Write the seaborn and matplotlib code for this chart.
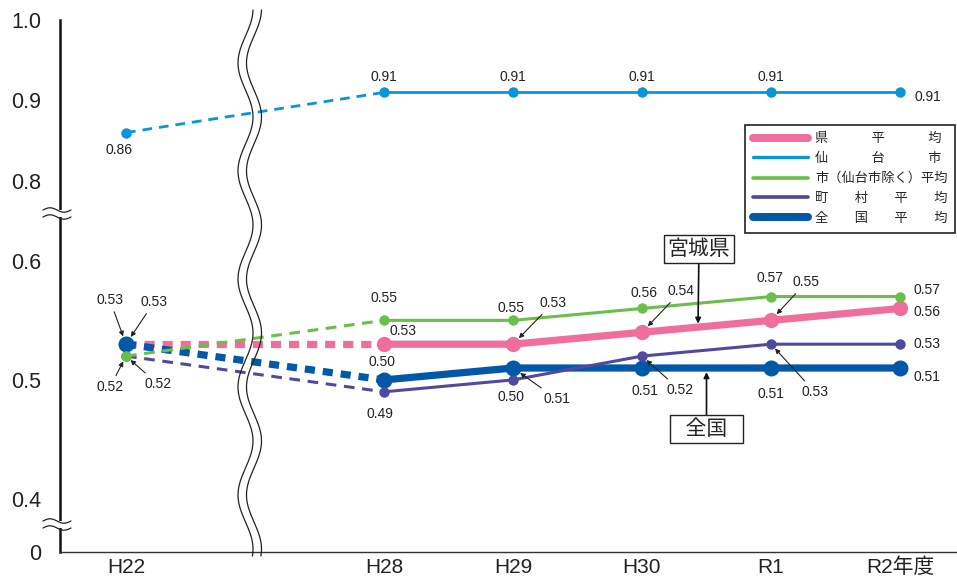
import matplotlib
matplotlib.use("Agg")
import matplotlib.pyplot as plt
import matplotlib.transforms as mtransforms
from matplotlib.lines import Line2D
from matplotlib.patches import Rectangle
import numpy as np
import pandas as pd
import seaborn as sns

# ---- data -------------------------------------------------------------
years = ["H22", "H28", "H29", "H30", "R1", "R2年度"]
x_pos = [0, 2, 3, 4, 5, 6]  # slot 1 is left empty for the axis break

pref_avg = [0.53, 0.53, 0.53, 0.54, 0.55, 0.56]        # 県平均
sendai = [0.86, 0.91, 0.91, 0.91, 0.91, 0.91]          # 仙台市
city_ex_sendai = [0.52, 0.55, 0.55, 0.56, 0.57, 0.57]  # 市(仙台市除く)平均
town_village = [0.52, 0.49, 0.50, 0.52, 0.53, 0.53]    # 町村平均
national = [0.53, 0.50, 0.51, 0.51, 0.51, 0.51]        # 全国平均

y_ticks = [0, 0.4, 0.5, 0.6, 0.8, 0.9, 1.0]
y_ticklabels = ["0", "0.4", "0.5", "0.6", "0.8", "0.9", "1.0"]

# broken y axis: value -> pixel height above the x axis
Y_VALS = [0.0, 0.4, 0.5, 0.6, 0.8, 1.1]
Y_SPAN = [0.0, 53.0, 172.0, 291.0, 371.0, 612.0]


def fwd(v):
    return np.interp(v, Y_VALS, Y_SPAN)


def inv(p):
    return np.interp(p, Y_SPAN, Y_VALS)


# label offsets in pixels (dx, dy, arrow?) for each point, H22 .. R2
styles = {
    "pref": dict(data=pref_avg, color="#F06E9C", lw=5.2, ms=11, dash=(1.4, 1.1), z=3,
                 offs=[(-16, 44, True), (19, 13, False), (40, 41, True), (39, 41, True),
                       (35, 38, True), (27, -4, False)]),
    "national": dict(data=national, color="#0058A9", lw=5.2, ms=11.5, dash=(1.4, 1.1), z=4,
                     offs=[(28, 42, True), (-2, 18, False), (44, -31, True), (3, -23, False),
                           (0, -26, False), (27, -9, False)]),
    "town": dict(data=town_village, color="#4F4AA0", lw=2.2, ms=7.5, dash=(3.5, 2.5), z=5,
                 offs=[(32, -28, True), (-4, -22, False), (-2, -17, False), (38, -34, True),
                       (44, -48, True), (27, 0, False)]),
    "city": dict(data=city_ex_sendai, color="#6ABF4B", lw=2.2, ms=7.5, dash=(3.5, 2.5), z=6,
                 offs=[(-16, -31, True), (0, 22, False), (-2, 12, False), (2, 15, False),
                       (-1, 19, False), (27, 7, False)]),
    "sendai": dict(data=sendai, color="#0A96D6", lw=2.0, ms=7.5, dash=(3.5, 2.5), z=6,
                   offs=[(-7, -17, False), (0, 15, False), (0, 15, False), (0, 15, False),
                         (0, 15, False), (28, -5, False)]),
}

legend_order = ["pref", "sendai", "city", "town", "national"]
legend_labels = ["県　　　 平　　　 均", "仙　　　 台　　　 市", "市（仙台市除く）平均",
                 "町　　村　　平　　均", "全　　国　　平　　均"]

# ---- figure -------------------------------------------------------------
sns.set_style("white")
plt.rcParams["font.family"] = ["Liberation Sans", "Noto Sans CJK JP", "DejaVu Sans"]

W, H = 957, 580
fig = plt.figure(figsize=(W / 100, H / 100), dpi=100)
ax = fig.add_axes([60 / W, 28 / H, (W - 60) / W, (552 - 8) / H])
ax.set_yscale("function", functions=(fwd, inv))

for key in ["pref", "national", "town", "city", "sendai"]:
    s = styles[key]
    df = pd.DataFrame({"x": x_pos, "value": s["data"]})
    # broken part H22 -> H28
    sns.lineplot(data=df.iloc[:2], x="x", y="value", ax=ax, color=s["color"], lw=s["lw"],
                 linestyle=(0, s["dash"]), dash_capstyle="butt", zorder=s["z"])
    sns.lineplot(data=df.iloc[1:], x="x", y="value", ax=ax, color=s["color"], lw=s["lw"],
                 marker="o", markersize=s["ms"], markeredgewidth=0, zorder=s["z"])
    sns.scatterplot(data=df.iloc[:1], x="x", y="value", ax=ax, color=s["color"],
                    s=s["ms"] ** 2, linewidth=0, zorder=s["z"] + 0.5)
    for xi, v, (dx, dy, arrow) in zip(x_pos, s["data"], s["offs"]):
        props = None
        if arrow:
            props = dict(arrowstyle="-|>", color="#222222", lw=0.8, mutation_scale=7,
                         shrinkA=1, shrinkB=s["ms"] / 2 + 0.5)
        ax.annotate(f"{v:.2f}", xy=(xi, v), xytext=(dx, dy), textcoords="offset pixels",
                    ha="center", va="center", fontsize=10, color="#222222",
                    arrowprops=props, zorder=10)

# callouts
xc = 4.434
ax.annotate("宮城県", xy=(xc, np.interp(xc, x_pos, pref_avg)), xytext=(1, 78),
            textcoords="offset pixels", ha="center", va="center", fontsize=15,
            bbox=dict(boxstyle="square,pad=0.2", fc="white", ec="#222222", lw=1),
            arrowprops=dict(arrowstyle="-|>", color="#111111", lw=1.2, mutation_scale=8,
                            shrinkA=0, shrinkB=2.5), zorder=10)
xc = 4.5
ax.annotate("  全国  ", xy=(xc, np.interp(xc, x_pos, national)), xytext=(0, -61),
            textcoords="offset pixels", ha="center", va="center", fontsize=15,
            bbox=dict(boxstyle="square,pad=0.2", fc="white", ec="#222222", lw=1),
            arrowprops=dict(arrowstyle="-|>", color="#111111", lw=1.2, mutation_scale=8,
                            shrinkA=0, shrinkB=3), zorder=10)

# axes styling
ax.set_xlim(-66 / 129, 831 / 129)
ax.set_ylim(0, 1.015)
ax.set_xticks(x_pos)
ax.set_xticklabels(years, fontsize=15, color="#222222")
ax.set_yticks(y_ticks)
ax.set_yticklabels(y_ticklabels, fontsize=15.5, color="#222222")
ax.tick_params(axis="x", length=0, pad=4)
ax.tick_params(axis="y", direction="inout", length=15, width=1.6, pad=6, color="#111111")
ax.set_xlabel("")
ax.set_ylabel("")
for side in ["top", "right"]:
    ax.spines[side].set_visible(False)
ax.spines["left"].set_linewidth(1.8)
ax.spines["left"].set_color("#111111")
ax.spines["left"].set_bounds(0, 1.0)
ax.spines["bottom"].set_linewidth(1.0)
ax.spines["bottom"].set_color("#333333")

# legend
handles = [Line2D([0], [0], color=styles[k]["color"], lw=styles[k]["lw"] * (1.1 if styles[k]["lw"] > 3 else 1.2),
                  solid_capstyle="round") for k in legend_order]
leg = ax.legend(handles, legend_labels, loc="upper left", bbox_to_anchor=((745 - 60) / 897, (455 - 28) / 544),
                borderaxespad=0, fontsize=9.5, handlelength=4.2, handletextpad=0.5,
                labelspacing=0.57, borderpad=0.6, frameon=True, fancybox=False, framealpha=1)
leg.get_frame().set_edgecolor("#222222")
leg.get_frame().set_linewidth(1.2)
leg.set_zorder(20)

# break marks, drawn in pixel space (origin top-left)
pix = mtransforms.Affine2D().scale(1, -1).translate(0, H)
yy = np.linspace(10, 556, 600)
for x0 in (245.5, 254.0):
    xx = x0 + 7.5 * np.cos(2 * np.pi * (yy - 9) / 108)
    fig.add_artist(Line2D(xx, yy, transform=pix, color="#222222", lw=0.9, zorder=30))

tt = np.linspace(0, 1, 60)
for yc in (213.5, 524.5):
    fig.add_artist(Rectangle((50, yc - 3.5), 20, 7, transform=pix, fc="white", ec="none", zorder=29))
    for yoff in (-3.5, 3.5):
        fig.add_artist(Line2D(43 + 28 * tt, yc + yoff - 2.2 * np.sin(2 * np.pi * tt), transform=pix,
                              color="#222222", lw=0.9, zorder=30))

fig.savefig("out.png", dpi=100)
